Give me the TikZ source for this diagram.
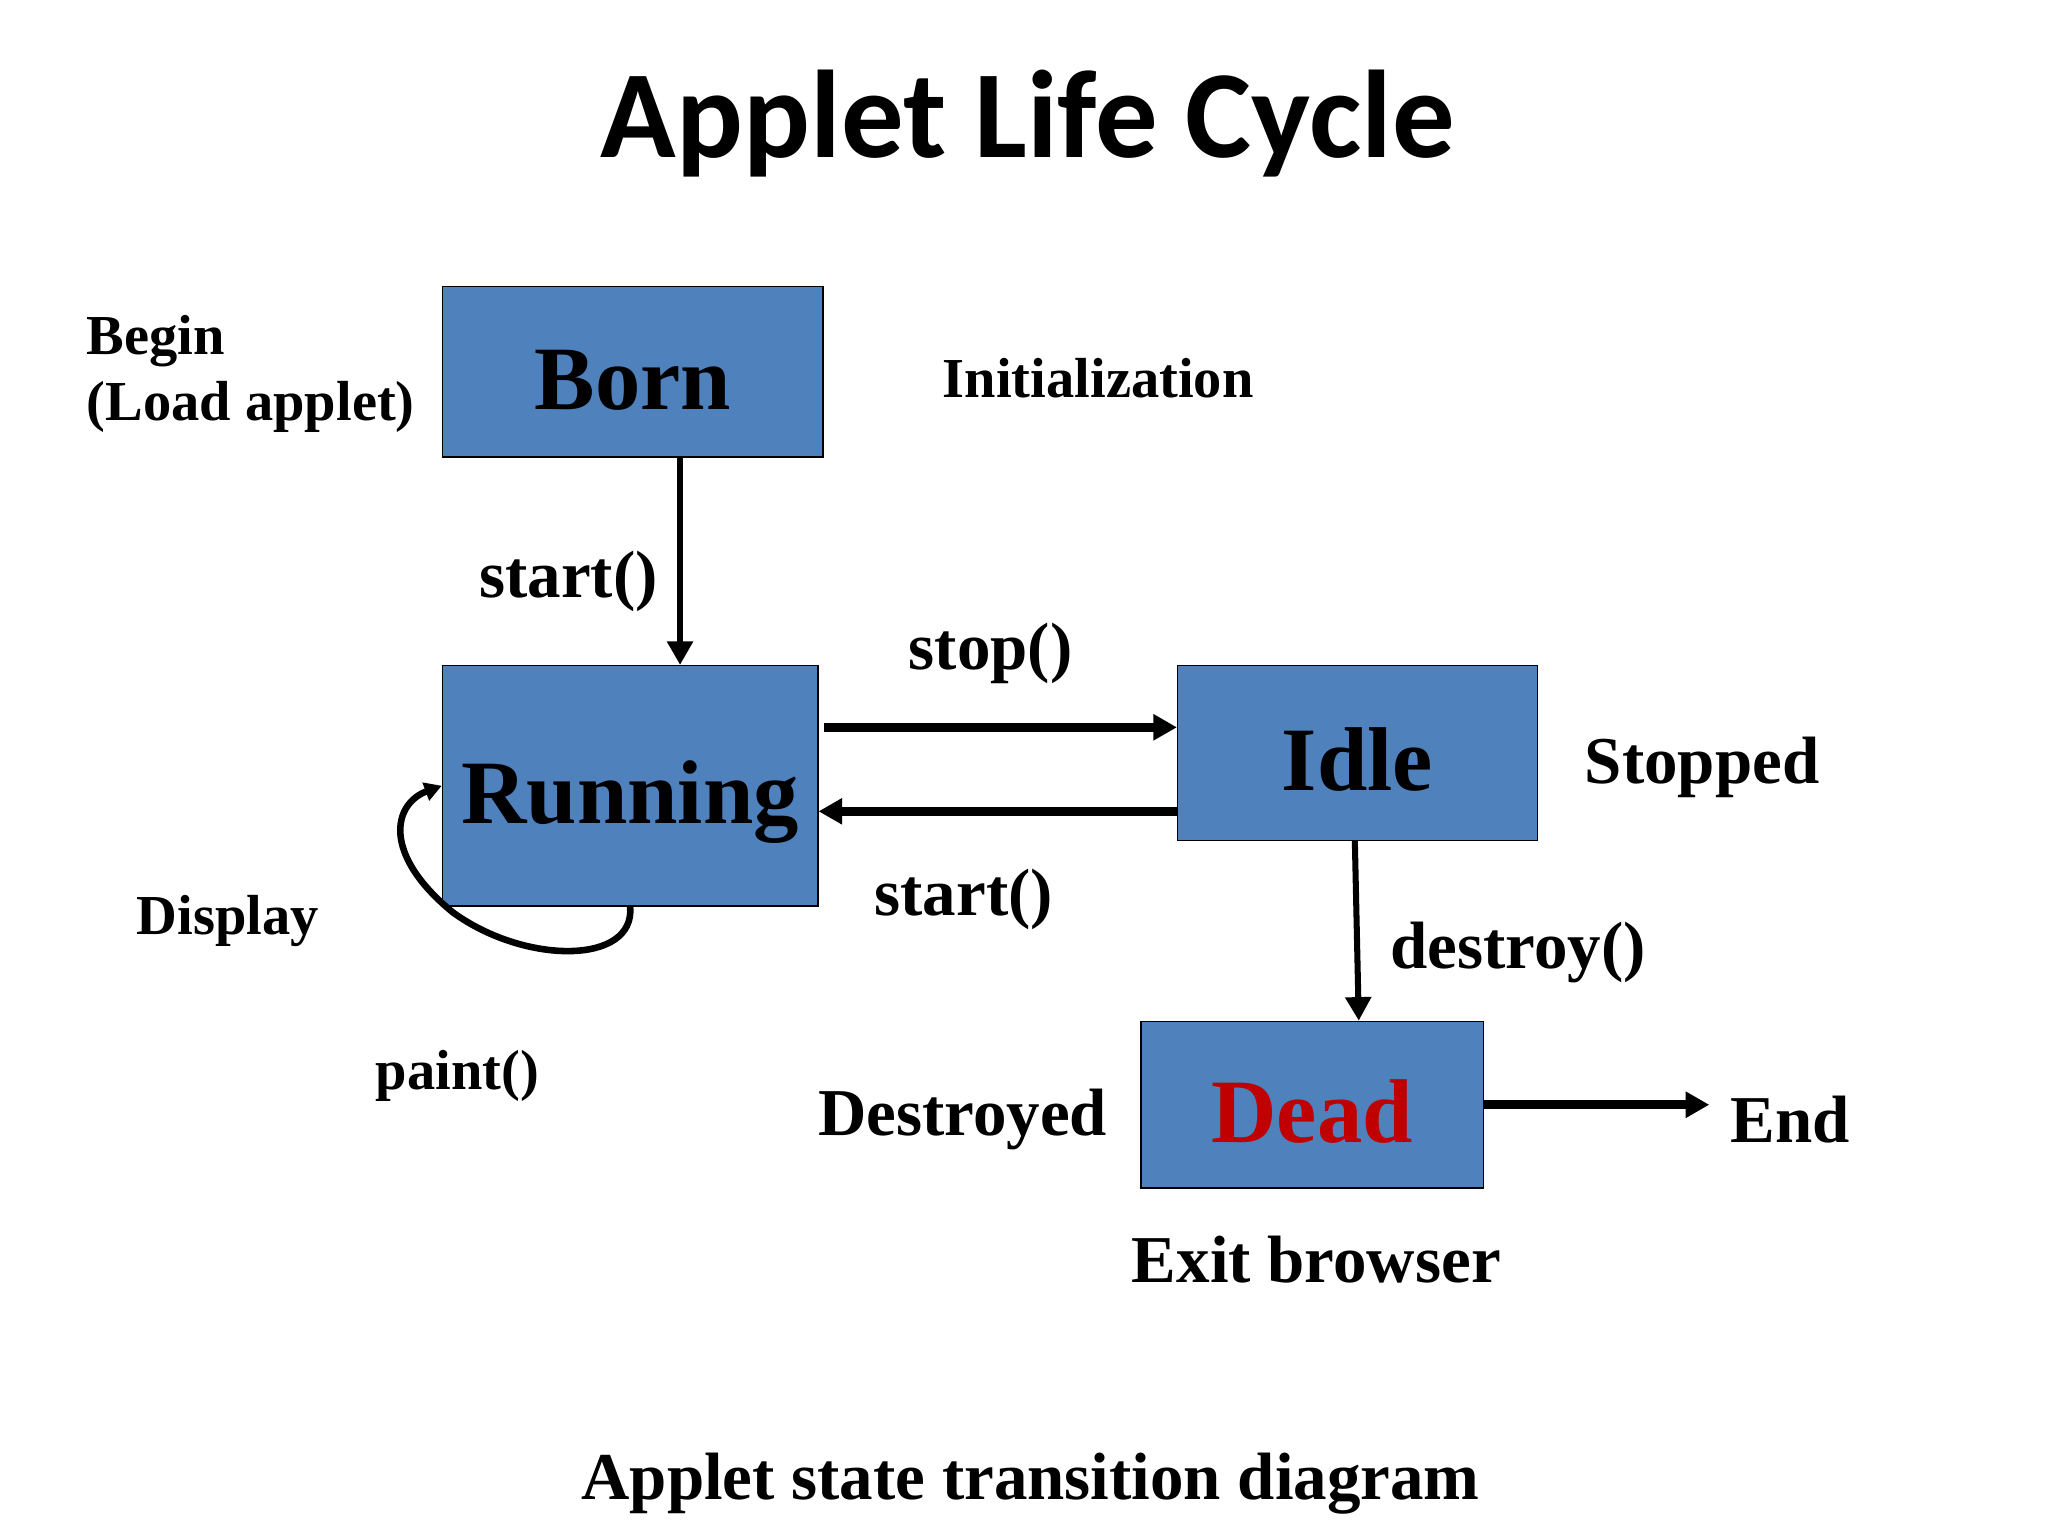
\documentclass[tikz,border=0pt]{standalone}
\usepackage{fontspec}
\setmainfont{Liberation Serif}
\newfontfamily\titlefont{Carlito}
\usetikzlibrary{arrows.meta}
\definecolor{boxblue}{HTML}{4F81BD}
\definecolor{deadred}{HTML}{C00000}

\begin{document}
\begin{tikzpicture}[x=1pt,y=-1pt,
  every node/.style={inner sep=0pt,font=\bfseries},
  state/.style={draw,fill=boxblue,line width=1pt,text height=60pt,text depth=2pt,
    font=\fontsize{69}{72}\selectfont\bfseries},
  lbl/.style={anchor=base west,font=\fontsize{51}{56}\selectfont\bfseries},
  small/.style={anchor=base west,font=\fontsize{43}{50}\selectfont\bfseries},
  trans/.style={-{Triangle[length=18pt,width=19pt]},line width=4.6pt},
  thick trans/.style={trans,line width=6.5pt},
  loop trans/.style={-{Triangle[length=13pt,width=14pt]},line width=5pt}]
  \useasboundingbox (0,0) rectangle (1560,1170);

  % title
  \node[anchor=base,font=\titlefont\fontsize{95}{100}\selectfont\bfseries] (title) at (783,120) {Applet Life Cycle};

  % states
  \node[state,minimum width=290pt,minimum height=130pt] (born) at (482,283) {Born};
  \node[state,minimum width=286pt,minimum height=183pt] (run) at (480,598.5) {Running};
  \node[state,minimum width=274pt,minimum height=133pt] (idle) at (1034,573.5) {Idle};
  \node[state,minimum width=261pt,minimum height=127pt,text=deadred] (dead) at (999.5,841.5) {Dead};

  % side texts
  \node[small] (begin) at (66,270) {Begin};
  \node[small] (load) at (66,320) {(Load applet)};
  \node[small] (init) at (718,303) {Initialization};
  \node[lbl] (start1) at (365,455) {start()};
  \node[lbl] (stop) at (692,510) {stop()};
  \node[lbl] (start2) at (666,697) {start()};
  \node[lbl] (stopped) at (1207,597) {Stopped};
  \node[small] (display) at (104,712) {Display};
  \node[small] (paint) at (286,830) {paint()};
  \node[lbl] (destroy) at (1059,738) {destroy()};
  \node[lbl] (destroyed) at (623,865) {Destroyed};
  \node[lbl] (endl) at (1318,870) {End};
  \node[lbl] (exit) at (862,977) {Exit browser};
  \node[lbl,anchor=base] (caption) at (785,1142) {Applet state transition diagram};

  % transitions
  \draw[trans] (born.south -| 518,0) -- (run.north -| 518,0);
  \draw[thick trans] ([xshift=4pt]run.east |- 0,554) -- (idle.west |- 0,554);
  \draw[thick trans] (idle.west |- 0,618) -- (run.east |- 0,618);
  \draw[trans] ([xshift=-2pt]idle.south) -- ([xshift=1pt]idle.south |- dead.north);
  \draw[thick trans,shorten >=16pt] (dead.east) -- (dead.east -| endl.west);
  \draw[loop trans] (run.south) .. controls (484,735) and (400,735) .. (345,695)
    .. controls (290,650) and (300,612) .. (run.west);
\end{tikzpicture}
\end{document}
